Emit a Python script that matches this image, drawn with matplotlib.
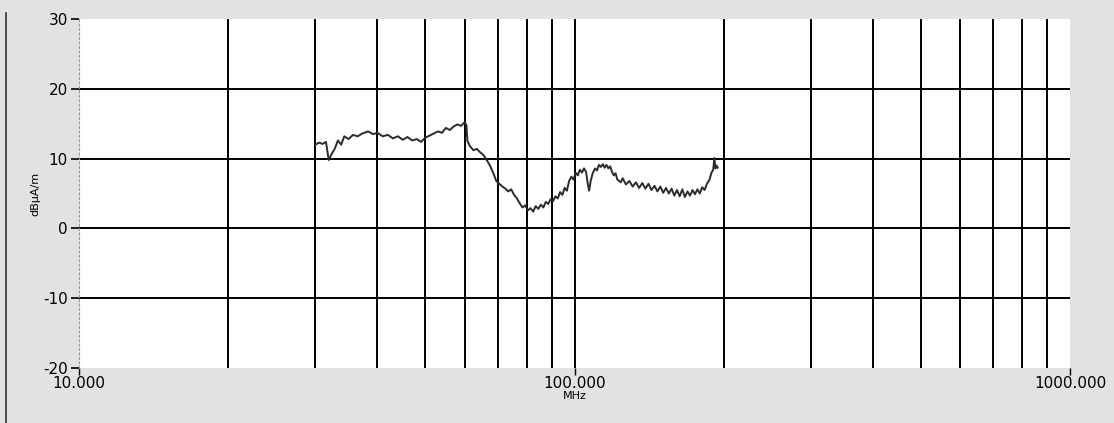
import matplotlib
matplotlib.use('Agg')
import matplotlib.pyplot as plt
from matplotlib.lines import Line2D
from matplotlib.ticker import FixedLocator, NullFormatter

plt.rcParams['axes.unicode_minus'] = False

# (MHz, dBuA/m)
freq = [30.0, 30.5, 31.0, 31.5, 31.9, 32.3, 32.8, 33.3, 33.8, 34.3, 35.0, 35.7, 36.5, 37.3,
        38.3, 39.2, 40.0, 41.0, 42.0, 43.0, 44.0, 45.0, 46.0, 47.0, 48.0, 49.0, 50.0, 51.0,
        52.0, 53.0, 54.0, 55.0, 56.0, 57.0, 58.0, 59.0, 60.0, 60.5, 60.8, 61.5, 62.5, 63.5,
        64.5, 65.5, 66.5, 67.5, 68.5, 69.5, 70.5, 71.5, 72.5, 73.5, 74.5, 75.5, 76.5, 77.5,
        78.5, 79.5, 80.5, 81.5, 82.5, 83.5, 84.5, 85.5, 86.5, 87.5, 88.5, 89.5, 90.5, 91.5,
        92.5, 93.5, 94.5, 95.5, 96.5, 97.5, 98.5, 99.5, 100.5, 101.5, 102.5, 103.5, 104.5,
        105.5, 106.3, 107.0, 107.8, 108.8, 110, 111, 112, 113, 114, 115, 116, 117, 118, 119,
        120, 121, 122, 124, 125, 127, 129, 131, 133, 135, 137, 139, 141, 143, 145, 147, 149,
        151, 153, 155, 157, 159, 161, 163, 165, 167, 169, 171, 173, 175, 177, 179, 181, 183,
        185, 187, 189, 190.5, 191.5, 192.5, 193.5, 194.5]
level = [12.0, 12.3, 12.1, 12.4, 9.8, 10.6, 11.4, 12.6, 12.0, 13.2, 12.8, 13.4, 13.2, 13.6,
         13.9, 13.5, 13.7, 13.2, 13.4, 12.9, 13.2, 12.7, 13.1, 12.6, 12.8, 12.4, 13.0, 13.3,
         13.6, 13.9, 13.7, 14.4, 14.1, 14.6, 14.9, 14.7, 15.2, 14.8, 12.5, 11.8, 11.2, 11.4,
         10.9, 10.5, 9.8, 9.0, 8.0, 6.8, 6.4, 6.0, 5.7, 5.3, 5.6, 4.8, 4.3, 3.6,
         3.0, 3.3, 2.6, 2.9, 2.4, 3.2, 2.8, 3.4, 3.0, 3.8, 3.5, 4.2, 3.9, 4.6,
         4.3, 5.2, 4.8, 5.8, 5.4, 6.8, 7.4, 7.0, 8.0, 7.6, 8.4, 8.0, 8.6,
         8.1, 6.5, 5.4, 6.8, 7.9, 8.6, 8.3, 9.1, 8.8, 9.2, 8.7, 9.1, 8.6, 8.9, 8.1,
         7.6, 7.9, 7.0, 6.6, 7.2, 6.3, 6.8, 6.0, 6.6, 5.8, 6.5, 5.7, 6.4, 5.5, 6.1, 5.3, 6.0,
         5.1, 5.8, 5.0, 5.7, 4.7, 5.5, 4.6, 5.6, 4.5, 5.3, 4.7, 5.5, 4.9, 5.6, 5.0, 5.9, 5.5,
         6.4, 6.9, 8.0, 8.4, 10.1, 8.6, 9.0, 8.7]

y_ticks = [-20, -10, 0, 10, 20, 30]
x_ticks = [10, 100, 1000]
x_ticklabels = ['10.000', '100.000', '1000.000']
x_grid = [20, 30, 40, 50, 60, 70, 80, 90, 100, 200, 300, 400, 500, 600, 700, 800, 900]

fig = plt.figure(figsize=(11.14, 4.23), dpi=100, facecolor='#e2e2e2')
ax = fig.add_axes([0.071, 0.130, 0.8895, 0.825])
ax.set_facecolor('white')

ax.plot(freq, level, color='#2b2b2b', lw=1.4)

ax.set_xscale('log')
ax.set_xlim(10, 1000)
ax.set_ylim(-20, 30)

# grid lines drawn by hand-picked positions
for f in x_grid:
    ax.axvline(f, color='black', lw=1.4, zorder=0)
for v in [-10, 0, 10, 20]:
    ax.axhline(v, color='black', lw=1.4, zorder=0)

ax.set_yticks(y_ticks)
ax.xaxis.set_major_locator(FixedLocator(x_ticks))
ax.xaxis.set_minor_locator(FixedLocator([]))
ax.xaxis.set_minor_formatter(NullFormatter())
ax.set_xticklabels(x_ticklabels)
ax.tick_params(axis='y', length=6, width=1.2, labelsize=11, pad=2)
ax.tick_params(axis='x', length=5, width=1.0, labelsize=11, pad=1)

for s in ['top', 'right', 'bottom']:
    ax.spines[s].set_visible(False)
ax.spines['left'].set_color('#9a9a9a')
ax.spines['left'].set_linestyle((0, (2, 2)))

ax.set_xlabel('MHz', fontsize=8, labelpad=0)
ax.set_ylabel('dBµA/m', fontsize=8, labelpad=2)

# scan frame edge on the left
fig.add_artist(Line2D([0.005, 0.005], [0.0, 0.97], color='#333333', lw=1.2))

fig.savefig('out.png', dpi=100, facecolor=fig.get_facecolor())
